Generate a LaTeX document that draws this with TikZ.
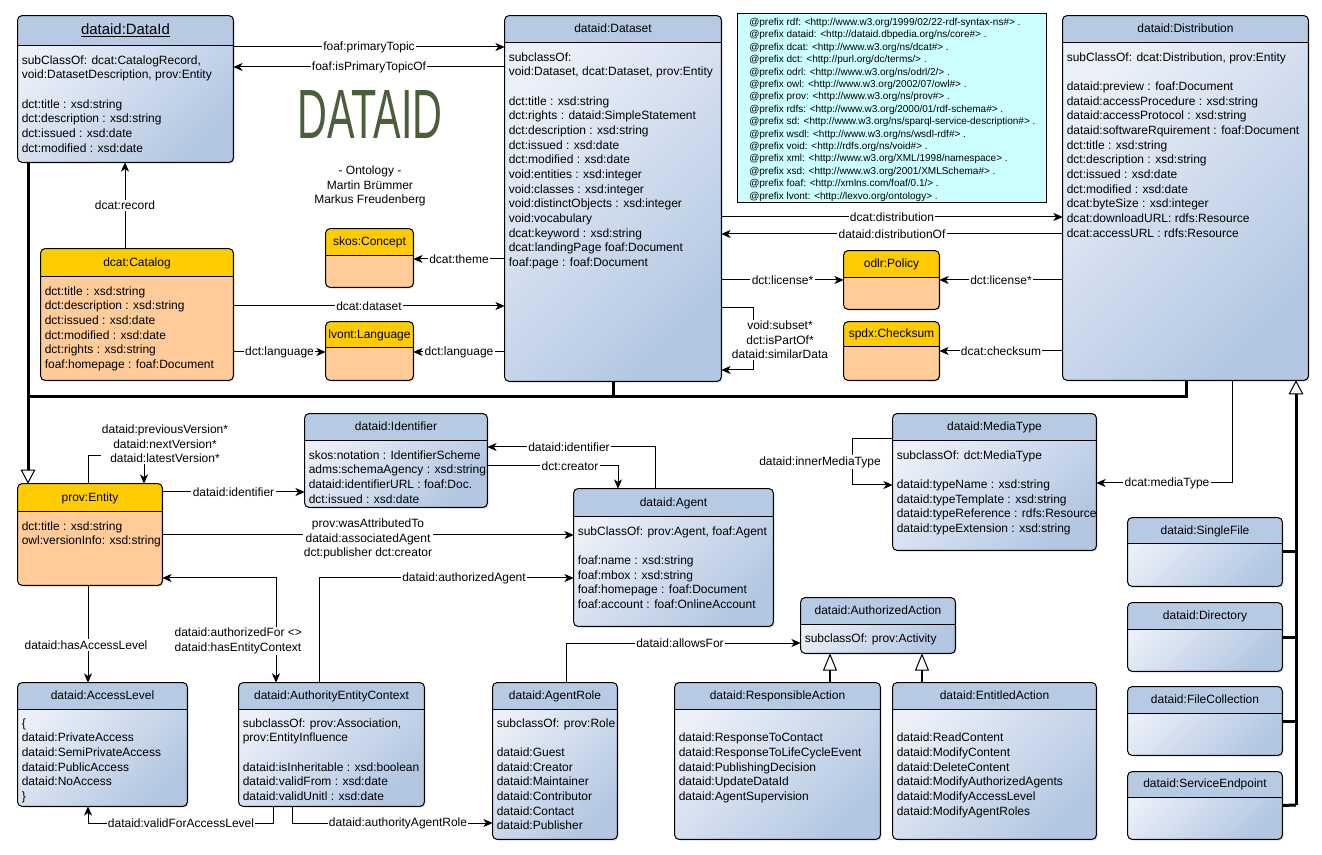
\documentclass[tikz,border=0pt]{standalone}
\usepackage{fontspec}
\usepackage{graphicx}
\setmainfont{Liberation Sans}
\usetikzlibrary{arrows.meta,shadows}
\definecolor{hdrBc}{HTML}{B7CAE4}
\definecolor{bodyLc}{HTML}{ECF1F9}
\definecolor{bodyDc}{HTML}{B3C7E2}
\definecolor{hdrOc}{HTML}{FFCC00}
\definecolor{bodyOc}{HTML}{FFCC99}
\definecolor{pfxc}{HTML}{CCFFFF}
\definecolor{handc}{HTML}{4A5E3A}
\newcommand\fnine{\fontsize{9pt}{11pt}\selectfont}
\newcommand\fpfx{\fontsize{7.5pt}{9.3pt}\selectfont}
\tikzset{
  umlshape/.style={rectangle, rounded corners=3pt, inner sep=0pt, draw=none,
    drop shadow={shadow xshift=1.2pt, shadow yshift=-1.2pt, opacity=0.3}},
  boxB/.style={top color=bodyLc, bottom color=bodyDc, shading angle=45},
  boxO/.style={fill=bodyOc},
  hdrB/.style={fill=hdrBc},
  hdrO/.style={fill=hdrOc},
  outline/.style={line width=0.75pt, rounded corners=3pt},
  ttl/.style={font=\fnine, inner sep=0pt, text height=6.6pt, text depth=1.9pt},
  bdy/.style={font=\fnine, inner sep=0pt, align=left, anchor=north west},
  conn/.style={line width=0.75pt, -{Stealth[length=7pt,width=6pt,inset=2pt]}},
  conntwo/.style={line width=0.75pt, {Stealth[length=7pt,width=6pt,inset=2pt]}-{Stealth[length=7pt,width=6pt,inset=2pt]}},
  lbl/.style={font=\fnine, fill=white, inner sep=1pt, align=center},
  thickln/.style={line width=2.25pt},
  genbig/.style={line width=2.25pt, -{Triangle[length=10.5pt,width=11pt,line width=0.75pt,fill=white]}},
  gensmall/.style={line width=1.5pt, -{Triangle[length=13pt,width=10.5pt,line width=0.75pt,fill=white]}},
}
\newcommand\umlbox[9]{%
  \node[umlshape, box#1, minimum width={(#5-#3)*0.75pt}, minimum height={(#6-#4)*0.75pt}] (#2) at ({(#3+#5)/2},{(#4+#6)/2}) {};
  \begin{scope}
    \clip[rounded corners=3pt] (#2.north west) rectangle (#2.south east);
    \fill[hdr#1] (#2.north west) rectangle (#2.east |- 0,#7);
  \end{scope}
  \draw[outline] (#2.north west) rectangle (#2.south east);
  \draw[line width=0.75pt] (#2.west |- 0,#7) -- (#2.east |- 0,#7);
  \node[ttl] (#2-t) at ({(#3+#5)/2},{(#4+#7)/2}) {#8};
  \node[bdy] (#2-b) at ({#3+3.5},{#7+9.2}) {\rule{0pt}{6.6pt}#9};
}
\begin{document}
\begin{tikzpicture}[x=0.75pt,y=-0.75pt]
\useasboundingbox (0,0) rectangle (1322,855);
\fill[white] (0,0) rectangle (1322,855);

% ---------- boxes ----------
\umlbox{B}{dataid}{18}{16}{233}{162}{46}{\fontsize{11.2pt}{13pt}\selectfont\underline{dataid:DataId}}{subClassOf: dcat:CatalogRecord,\\void:DatasetDescription, prov:Entity\\[11pt]dct:title : xsd:string\\dct:description : xsd:string\\dct:issued : xsd:date\\dct:modified : xsd:date}

\umlbox{B}{ds}{505}{16}{721}{381}{43}{dataid:Dataset}{subclassOf:\\void:Dataset, dcat:Dataset, prov:Entity\\[11pt]dct:title : xsd:string\\dct:rights : dataid:SimpleStatement\\dct:description : xsd:string\\dct:issued : xsd:date\\dct:modified : xsd:date\\void:entities : xsd:integer\\void:classes : xsd:integer\\void:distinctObjects : xsd:integer\\void:vocabulary\\dcat:keyword : xsd:string\\dcat:landingPage foaf:Document\\foaf:page : foaf:Document}

\umlbox{B}{dist}{1063}{16}{1308}{380}{43}{dataid:Distribution}{subClassOf: dcat:Distribution, prov:Entity\\[11pt]dataid:preview : foaf:Document\\dataid:accessProcedure : xsd:string\\dataid:accessProtocol : xsd:string\\dataid:softwareRquirement : foaf:Document\\dct:title : xsd:string\\dct:description : xsd:string\\dct:issued : xsd:date\\dct:modified : xsd:date\\dcat:byteSize : xsd:integer\\dcat:downloadURL: rdfs:Resource\\dcat:accessURL : rdfs:Resource}

\umlbox{O}{cat}{41}{249}{233}{380}{277}{dcat:Catalog}{dct:title : xsd:string\\dct:description : xsd:string\\dct:issued : xsd:date\\dct:modified : xsd:date\\dct:rights : xsd:string\\foaf:homepage : foaf:Document}

\umlbox{O}{skos}{326}{229}{413}{287}{256}{skos:Concept}{}
\umlbox{O}{lang}{326}{322}{413}{380}{348}{lvont:Language}{}
\umlbox{O}{pol}{844}{251}{939}{309}{278}{odlr:Policy}{}
\umlbox{O}{chk}{844}{322}{939}{380}{347}{spdx:Checksum}{}

\umlbox{O}{ent}{18}{484}{162}{585}{512}{prov:Entity}{dct:title : xsd:string\\owl:versionInfo: xsd:string}

\umlbox{B}{ident}{305}{414}{487}{507}{441}{dataid:Identifier}{skos:notation : IdentifierScheme\\adms:schemaAgency : xsd:string\\dataid:identifierURL : foaf:Doc.\\dct:issued : xsd:date}

\umlbox{B}{agent}{574}{489}{773}{626}{517}{dataid:Agent}{subClassOf: prov:Agent, foaf:Agent\\[11pt]foaf:name : xsd:string\\foaf:mbox : xsd:string\\foaf:homepage : foaf:Document\\foaf:account : foaf:OnlineAccount}

\umlbox{B}{mt}{893}{414}{1096}{550}{441}{dataid:MediaType}{subclassOf: dct:MediaType\\[11pt]dataid:typeName : xsd:string\\dataid:typeTemplate : xsd:string\\dataid:typeReference : rdfs:Resource\\dataid:typeExtension : xsd:string}

\umlbox{B}{sf}{1128}{518}{1282}{586}{544}{dataid:SingleFile}{}
\umlbox{B}{dir}{1128}{603}{1282}{671}{629}{dataid:Directory}{}
\umlbox{B}{fc}{1128}{687}{1282}{755}{713}{dataid:FileCollection}{}
\umlbox{B}{se}{1128}{772}{1282}{839}{797}{dataid:ServiceEndpoint}{}

\umlbox{B}{al}{18}{683}{187}{806}{709}{dataid:AccessLevel}{\{\\dataid:PrivateAccess\\dataid:SemiPrivateAccess\\dataid:PublicAccess\\dataid:NoAccess\\\}}

\umlbox{B}{aec}{239}{683}{424}{806}{709}{dataid:AuthorityEntityContext}{subclassOf: prov:Association,\\prov:EntityInfluence\\[11pt]dataid:isInheritable : xsd:boolean\\dataid:validFrom : xsd:date\\dataid:validUnitl : xsd:date}

\umlbox{B}{role}{493}{683}{617}{839}{709}{dataid:AgentRole}{subclassOf: prov:Role\\[11pt]dataid:Guest\\dataid:Creator\\dataid:Maintainer\\dataid:Contributor\\dataid:Contact\\dataid:Publisher}

\umlbox{B}{aa}{801}{598}{955}{653}{624}{dataid:AuthorizedAction}{subclassOf: prov:Activity}

\umlbox{B}{resp}{675}{683}{880}{839}{709}{dataid:ResponsibleAction}{\\dataid:ResponseToContact\\dataid:ResponseToLifeCycleEvent\\dataid:PublishingDecision\\dataid:UpdateDataId\\dataid:AgentSupervision}

\umlbox{B}{entl}{893}{683}{1096}{839}{709}{dataid:EntitledAction}{\\dataid:ReadContent\\dataid:ModifyContent\\dataid:DeleteContent\\dataid:ModifyAuthorizedAgents\\dataid:ModifyAccessLevel\\dataid:ModifyAgentRoles}

% ---------- prefix box ----------
\node[draw, line width=0.75pt, fill=pfxc, minimum width={(1046-737)*0.75pt}, minimum height={(203-14)*0.75pt}, inner sep=0pt] (pfx) at ({(737+1046)/2},{(14+203)/2}) {};
\node[anchor=north west, font=\fpfx, align=left, inner sep=0pt] (pfx-t) at (749,18) {\rule{0pt}{5.5pt}@prefix rdf: <http://www.w3.org/1999/02/22-rdf-syntax-ns\#> .\\
@prefix dataid: <http://dataid.dbpedia.org/ns/core\#> .\\
@prefix dcat: <http://www.w3.org/ns/dcat\#> .\\
@prefix dct: <http://purl.org/dc/terms/> .\\
@prefix odrl: <http://www.w3.org/ns/odrl/2/> .\\
@prefix owl: <http://www.w3.org/2002/07/owl\#> .\\
@prefix prov: <http://www.w3.org/ns/prov\#> .\\
@prefix rdfs: <http://www.w3.org/2000/01/rdf-schema\#> .\\
@prefix sd: <http://www.w3.org/ns/sparql-service-description\#> .\\
@prefix wsdl: <http://www.w3.org/ns/wsdl-rdf\#> .\\
@prefix void: <http://rdfs.org/ns/void\#> .\\
@prefix xml: <http://www.w3.org/XML/1998/namespace> .\\
@prefix xsd: <http://www.w3.org/2001/XMLSchema\#> .\\
@prefix foaf: <http://xmlns.com/foaf/0.1/> .\\
@prefix lvont: <http://lexvo.org/ontology> .};

% ---------- title ----------
\node[text=handc, inner sep=0pt] (hand) at (370,115) {\resizebox{109pt}{36pt}{DATAID}};
\node[font=\fnine, align=center, inner sep=0pt] (cred) at (370,186) {- Ontology -\\Martin Brümmer\\Markus Freudenberg};

% ---------- connectors ----------
\draw[conn] (dataid.east |- 0,47) -- node[lbl] (l1) {foaf:primaryTopic} (ds.west |- 0,47);
\draw[conn] (ds.west |- 0,67) -- node[lbl] (l2) {foaf:isPrimaryTopicOf} (dataid.east |- 0,67);
\draw[conn] (cat.north -| 125,0) -- node[lbl] (l3) {dcat:record} (dataid.south -| 125,0);
\draw[conn] (cat.east |- 0,306) -- node[lbl] (l4) {dcat:dataset} (ds.west |- 0,306);
\draw[conn] (cat.east |- 0,352) -- node[lbl] (l5) {dct:language} (lang.west |- 0,352);
\draw[conn] (ds.west |- 0,352) -- node[lbl] (l6) {dct:language} (lang.east |- 0,352);
\draw[conn] (ds.west |- 0,259) -- node[lbl] (l7) {dcat:theme} (skos.east |- 0,259);
\draw[conn] (ds.east |- 0,217) -- node[lbl] (l8) {dcat:distribution} (dist.west |- 0,217);
\draw[conn] (dist.west |- 0,234) -- node[lbl] (l9) {dataid:distributionOf} (ds.east |- 0,234);
\draw[conn] (ds.east |- 0,280) -- node[lbl] (l10) {dct:license*} (pol.west |- 0,280);
\draw[conn] (dist.west |- 0,280) -- node[lbl] (l11) {dct:license*} (pol.east |- 0,280);
\draw[conn] (dist.west |- 0,351) -- node[lbl] (l12) {dcat:checksum} (chk.east |- 0,351);
\draw[conn] (ds.east |- 0,308) -- (753,308) -- (753,370) -- (ds.east |- 0,370);
\node[lbl] (l13) at (780,340) {void:subset*\\dct:isPartOf*\\dataid:similarData};

% generalisation to prov:Entity
\coordinate (j1) at (28,397);
\coordinate (j2) at (1186,397);
\draw[thickln] (dataid.south -| j1) -- (j1) -- (j2) -- (dist.south -| j2);
\draw[thickln] (ds.south) -- (ds.south |- j1);
\draw[genbig] (j1) -- (ent.north -| j1);

% generalisation to Distribution
\coordinate (j3) at (1296,805);
\draw[genbig] (j3) -- (dist.south -| j3);
\draw[thickln] (sf.east) -- (sf.east -| j3);
\draw[thickln] (dir.east) -- (dir.east -| j3);
\draw[thickln] (fc.east) -- (fc.east -| j3);
\draw[thickln] (se.east) -- (j3);

% prov:Entity
\draw[conn] (ent.north -| 88,0) -- (88,456) -- (144,456) -- (ent.north -| 144,0);
\node[lbl] (l14) at (165,444) {dataid:previousVersion*\\dataid:nextVersion*\\dataid:latestVersion*};
\draw[conn] (ent.east |- 0,492) -- node[lbl] (l15) {dataid:identifier} (ident.west |- 0,492);
\draw[conn] (ent.east |- 0,535) -- (agent.west |- 0,535);
\node[lbl] (l16) at (368,539) {prov:wasAttributedTo\\dataid:associatedAgent\\dct:publisher dct:creator};
\draw[conn] (agent.north -| 655,0) -- (655,447) -- (ident.east |- 0,447);
\node[lbl] (l17) at (569,447) {dataid:identifier};
\draw[conn] (ident.east |- 0,466) -- (618,466) -- (agent.north -| 618,0);
\node[lbl] (l18) at (570,466) {dct:creator};
\draw[conntwo] (aec.north -| 276,0) -- (276,578) -- (ent.east |- 0,578);
\node[lbl, align=left, anchor=west] (l19) at (173,641) {dataid:authorizedFor <>\\dataid:hasEntityContext};
\draw[conn] (aec.north -| 319,0) -- (319,578) -- (agent.west |- 0,578);
\node[lbl] (l20) at (464,578) {dataid:authorizedAgent};
\draw[conn] (ent.south -| 88,0) -- (al.north -| 88,0);
\node[lbl] (l21) at (86,645) {dataid:hasAccessLevel};
\draw[conn] (aec.south -| 273,0) -- (273,823) -- (88,823) -- (al.south -| 88,0);
\node[lbl] (l22) at (181,823) {dataid:validForAccessLevel};
\draw[conn] (aec.south -| 292,0) -- (292,823) -- (role.west |- 0,823);
\node[lbl] (l23) at (398,823) {dataid:authorityAgentRole};
\draw[conn] (role.north -| 566,0) -- (566,643) -- (aa.west |- 0,643);
\node[lbl] (l24) at (680,643) {dataid:allowsFor};
\draw[gensmall] (resp.north -| 830,0) -- (aa.south -| 830,0);
\draw[gensmall] (entl.north -| 922,0) -- (aa.south -| 922,0);

% media type
\draw[conn] (mt.west |- 0,439) -- (852,439) -- (852,485) -- (mt.west |- 0,485);
\node[lbl] (l25) at (820,462) {dataid:innerMediaType};
\draw[conn] (dist.south -| 1232,0) -- (1232,483) -- (mt.east |- 0,483);
\node[lbl] (l26) at (1167,483) {dcat:mediaType};
\end{tikzpicture}
\end{document}
